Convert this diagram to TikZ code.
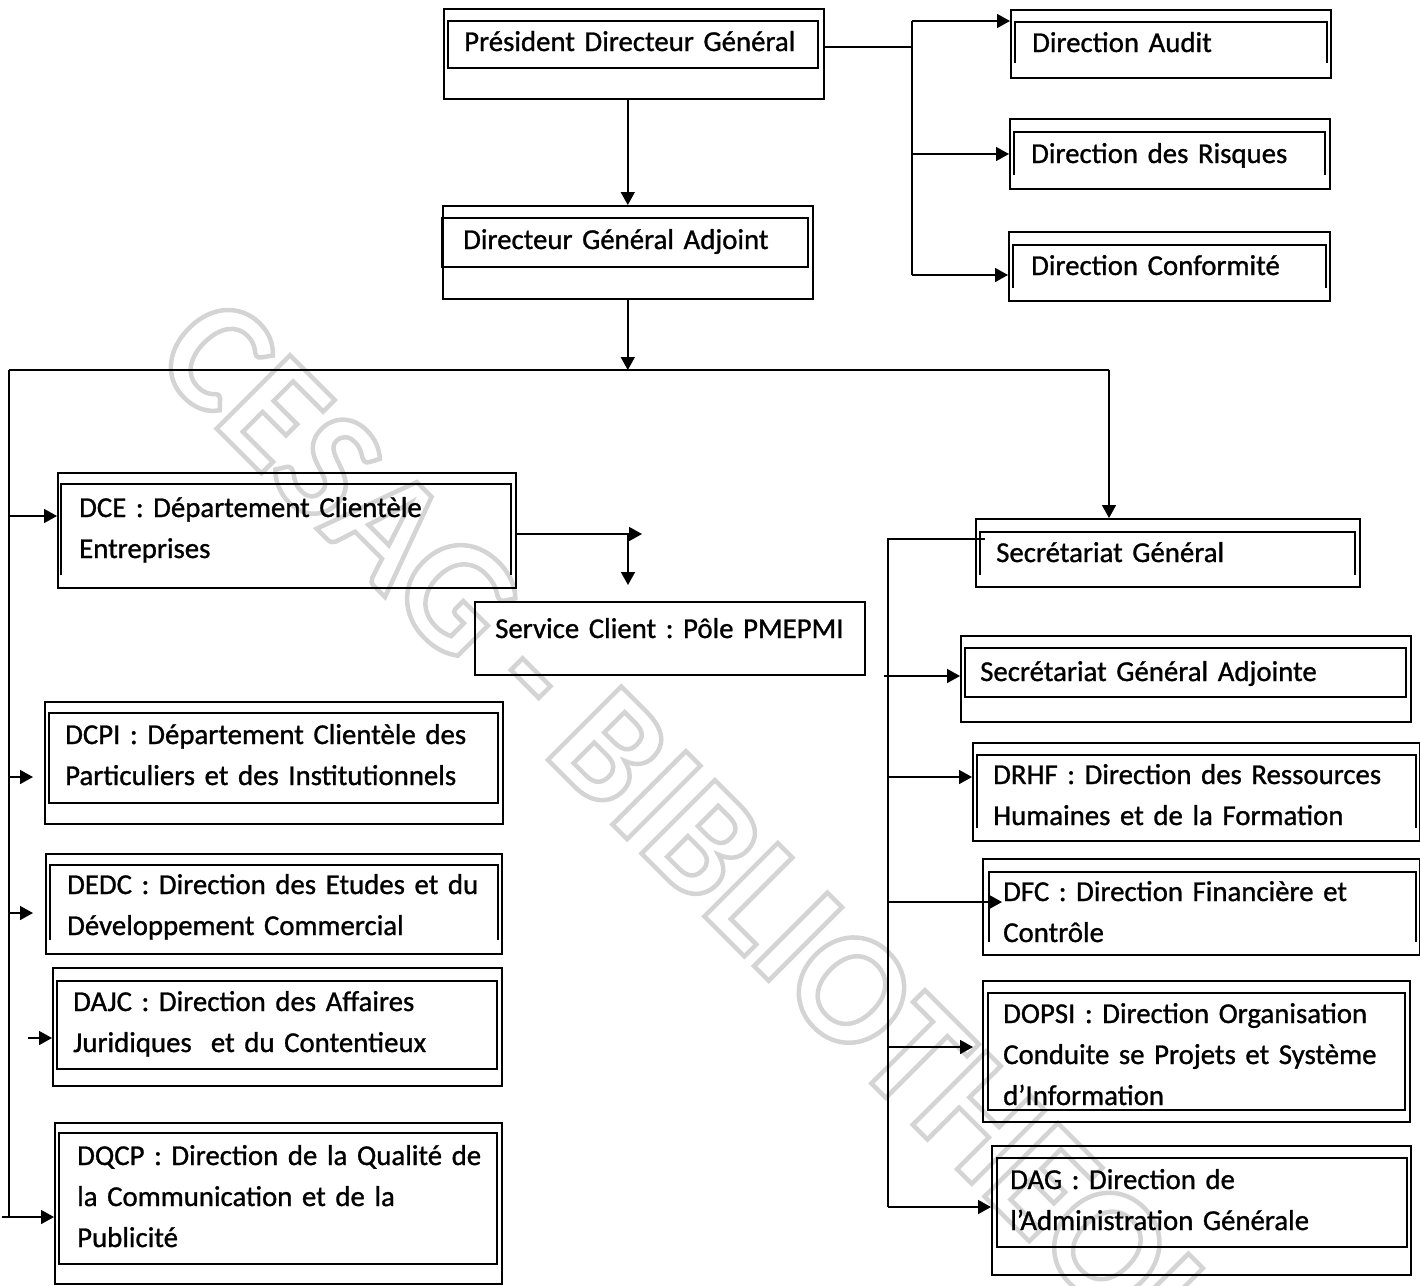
\documentclass[tikz,border=0pt]{standalone}
\usepackage{fontspec}
\setmainfont{Carlito}[FakeBold=1]
\newfontfamily\wmfont{Carlito}[Scale=1]
\usetikzlibrary{arrows.meta}
\frenchspacing
\newcommand\obox[5]{\node[obox, minimum width={#4-#2}, minimum height={#5-#3}] (#1) at (#2,#3) {};}
\newcommand\ibox[4]{\draw[ibox] (#1,#3) rectangle (#2,#4);}
\newcommand\iboxo[4]{\draw[ibox] (#1,#4) -- (#1,#3) -- (#2,#3) -- (#2,#4);}
\begin{document}
\begin{tikzpicture}[x=1pt, y=-1pt,
  obox/.style={draw, line width=1.6pt, inner sep=0pt, anchor=north west},
  ibox/.style={line width=1.6pt},
  lbl/.style={anchor=base west, inner sep=0pt, text width=500pt, align=left,
              font=\frenchspacing\fontsize{28.8}{41}\selectfont},
  conn/.style={line width=1.6pt},
  arr/.style={line width=1.6pt, -{Triangle[length=13pt,width=14pt]}},
  wm/.style={rotate=-45, inner sep=0pt, text=black!17, line width=4.5pt,
             font=\wmfont\fontsize{160}{160}\selectfont\bfseries}]
\useasboundingbox (0,0) rectangle (1420,1285);

% watermark
\node[wm] (wmark) at (724,876) {\special{pdf:literal 1 Tr 4.5 w}CESAG - BIBLIOTHEQUE\special{pdf:literal 0 Tr}};

% top
\obox{pdg}{443}{8}{823}{98}\ibox{448}{818}{21}{68}
\node[lbl] (pdgt) at (464,51) {Président Directeur Général};
\obox{dga}{442}{205}{812}{298}\ibox{442}{808}{218}{267}
\node[lbl] (dgat) at (463,249) {Directeur Général Adjoint};

\obox{audit}{1010}{9}{1330}{77}\iboxo{1015}{1327}{22}{63}
\node[lbl] (auditt) at (1032,52) {Direction Audit};
\obox{risk}{1009}{118}{1329}{188}\iboxo{1014}{1325}{132}{175}
\node[lbl] (riskt) at (1031,163) {Direction des Risques};
\obox{conf}{1008}{231}{1329}{300}\iboxo{1013}{1326}{245}{288}
\node[lbl] (conft) at (1031,275) {Direction Conformité};

% left column
\obox{dce}{57}{472}{515}{587}\iboxo{61}{511}{484}{575}
\node[lbl] (dcet) at (79,517) {DCE : Département Clientèle\\Entreprises};
\obox{svc}{474}{601}{864}{674}
\node[lbl] (svct) at (495,638) {Service Client : Pôle PMEPMI};
\obox{dcpi}{44}{701}{502}{823}\ibox{49}{498}{713}{803}
\node[lbl] (dcpit) at (65,744) {DCPI : Département Clientèle des\\Particuliers et des Institutionnels};
\obox{dedc}{45}{853}{501}{953}\iboxo{50}{498}{865}{940}
\node[lbl] (dedct) at (67,894) {DEDC : Direction des Etudes et du\\Développement Commercial};
\obox{dajc}{52}{967}{501}{1085}\ibox{57}{497}{981}{1069}
\node[lbl] (dajct) at (73,1011) {DAJC : Direction des Affaires\\Juridiques\ \ et du Contentieux};
\obox{dqcp}{54}{1122}{501}{1283}\ibox{59}{497}{1133}{1264}
\node[lbl] (dqcpt) at (77,1165) {DQCP : Direction de la Qualité de\\la Communication et de la\\Publicité};

% right column
\obox{sg}{975}{518}{1359}{586}\iboxo{980}{1355}{532}{575}
\node[lbl] (sgt) at (996,562) {Secrétariat Général};
\obox{sga}{960}{635}{1410}{721}\ibox{965}{1406}{648}{697}
\node[lbl] (sgat) at (980,681) {Secrétariat Général Adjointe};
\obox{drhf}{972}{742}{1419}{840}\iboxo{977}{1416}{755}{828}
\node[lbl] (drhft) at (993,784) {DRHF : Direction des Ressources\\Humaines et de la Formation};
\obox{dfc}{982}{858}{1419}{954}\iboxo{989}{1416}{872}{942}
\node[lbl] (dfct) at (1003,901) {DFC : Direction Financière et\\Contrôle};
\obox{dopsi}{982}{980}{1409}{1121}\ibox{988}{1405}{993}{1110}
\node[lbl] (dopsit) at (1003,1023) {DOPSI : Direction Organisation\\Conduite se Projets et Système\\d’Information};
\obox{dag}{991}{1145}{1410}{1274}\ibox{997}{1407}{1158}{1247}
\node[lbl] (dagt) at (1010,1189) {DAG : Direction de\\l’Administration Générale};

% coordinates
\coordinate (jp) at (912,47);
\coordinate (ja) at (912,21);
\coordinate (jb) at (912,154);
\coordinate (jc) at (912,275);
\coordinate (jl) at (9,370);
\coordinate (jr) at (1109,370);
\coordinate (jlb) at (9,1217);
\coordinate (cst) at (2,1217);
\coordinate (cdce) at (9,516);
\coordinate (cdcpi) at (9,777);
\coordinate (tdcpi) at (33,777);
\coordinate (cdedc) at (9,913);
\coordinate (tdedc) at (33,913);
\coordinate (cdajc) at (28,1038);
\coordinate (ce1) at (628,534);
\coordinate (ce2) at (642,534);
\coordinate (ce3) at (628,585);
\coordinate (sgin) at (985,539);
\coordinate (rt) at (888,539);
\coordinate (rb) at (888,1207);
\coordinate (s1) at (884,676);
\coordinate (s2) at (888,777);
\coordinate (s3) at (888,902);
\coordinate (tdfc) at (1002,902);
\coordinate (s4) at (888,1047);
\coordinate (tdopsi) at (973,1047);

% connectors top
\draw[arr] (pdg.south -| dga.north) -- (dga.north);
\draw[conn] (pdg.east |- jp) -- (jp);
\draw[conn] (ja) -- (jc);
\draw[arr] (ja) -- (audit.west |- ja);
\draw[arr] (jb) -- (risk.west |- jb);
\draw[arr] (jc) -- (conf.west |- jc);
\draw[arr] (dga.south) -- (dga.south |- jl);
\draw[conn] (jl) -- (jr);
\draw[arr] (jr) -- (jr |- sg.north);

% left connectors
\draw[conn] (jl) -- (jlb);
\draw[arr] (cst) -- (dqcp.west |- cst);
\draw[arr] (cdce) -- (dce.west |- cdce);
\draw[arr] (cdcpi) -- (tdcpi);
\draw[arr] (cdedc) -- (tdedc);
\draw[arr] (cdajc) -- (dajc.west |- cdajc);
\draw[arr] (dce.east |- ce1) -- (ce2);
\draw[arr] (ce1) -- (ce3);

% right connectors
\draw[conn] (sgin) -- (rt) -- (rb);
\draw[arr] (rb) -- (dag.west |- rb);
\draw[arr] (s1) -- (sga.west |- s1);
\draw[arr] (s2) -- (drhf.west |- s2);
\draw[arr] (s3) -- (tdfc);
\draw[arr] (s4) -- (tdopsi);
\end{tikzpicture}
\end{document}
